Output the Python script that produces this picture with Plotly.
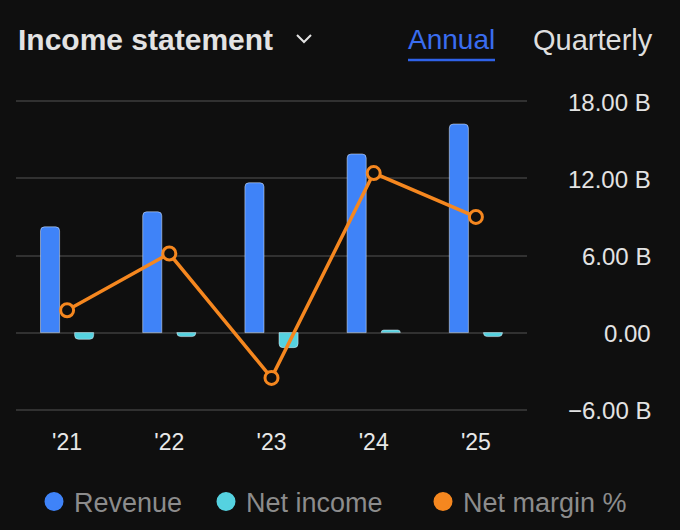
import plotly.graph_objects as go

# data (values in billions, margin in %)
years = ["'21", "'22", "'23", "'24", "'25"]
revenue = [8.23, 9.40, 11.66, 13.90, 16.23]
net_income = [-0.52, -0.31, -1.17, 0.20, -0.31]
net_margin = [-6.4, -3.3, -10.1, 1.1, -1.3]

y_ticks = [-6, 0, 6, 12, 18]
y_tick_text = ["\u22126.00 B", "0.00", "6.00 B", "12.00 B", "18.00 B"]

series_names = ["Revenue", "Net income", "Net margin %"]
series_colors = ["#3f83f8", "#55d2e0", "#f5871f"]

W, H = 680, 530
ML, MR, MT, MB = 16, 153, 100, 119
PW, PH = W - ML - MR, H - MT - MB
FONT = "Liberation Sans, Arial, sans-serif"
BG = "#0f0f0f"


def px_x(x):
    return (x - ML) / PW


def px_y(y):
    return (H - MB - y) / PH


fig = go.Figure()

fig.add_trace(go.Bar(
    x=years, y=revenue, name=series_names[0],
    marker=dict(color=series_colors[0], cornerradius=4),
    showlegend=False,
))
fig.add_trace(go.Bar(
    x=years, y=net_income, name=series_names[1],
    marker=dict(color=series_colors[1], cornerradius=4),
    showlegend=False,
))
fig.add_trace(go.Scatter(
    x=years, y=net_margin, name=series_names[2], yaxis="y2",
    mode="lines+markers",
    line=dict(color=series_colors[2], width=3.5),
    marker=dict(size=13, color=BG, line=dict(color=series_colors[2], width=3)),
    showlegend=False,
))

# legend entries drawn as round dots, one small legend each
legend_ids = ["legend", "legend2", "legend3"]
legend_left = [34, 206, 423]
for name, color, lid in zip(series_names, series_colors, legend_ids):
    fig.add_trace(go.Scatter(
        x=[None], y=[None], name=name, mode="markers", legend=lid,
        marker=dict(size=18, color=color, symbol="circle",
                    line=dict(color=color, width=3)),
    ))

legend_style = dict(
    orientation="h", xanchor="left", yanchor="middle",
    font=dict(size=27, color="#8c8c8c", family=FONT),
    bgcolor="rgba(0,0,0,0)", itemsizing="trace",
)
legends = {}
for lid, lx in zip(legend_ids, legend_left):
    legends[lid] = dict(legend_style, x=px_x(lx), y=px_y(502))

annotations = [
    dict(text="<b>Income statement</b>", x=px_x(16), y=px_y(40),
         xanchor="left", yanchor="middle",
         font=dict(size=30, color="#e3e3e3", family=FONT)),
    dict(text="Annual", x=px_x(406), y=px_y(40),
         xanchor="left", yanchor="middle",
         font=dict(size=28, color="#3a6df0", family=FONT)),
    dict(text="Quarterly", x=px_x(531), y=px_y(40),
         xanchor="left", yanchor="middle",
         font=dict(size=29, color="#dedede", family=FONT)),
]
for v, t in zip(y_ticks, y_tick_text):
    annotations.append(dict(
        text=t, x=px_x(653), y=v, xref="paper", yref="y",
        xanchor="right", yanchor="middle", yshift=-1,
        font=dict(size=24, color="#e3e3e3", family=FONT),
    ))
for a in annotations:
    a.setdefault("xref", "paper")
    a.setdefault("yref", "paper")
    a["showarrow"] = False

shapes = [
    dict(type="line", xref="paper", yref="paper",
         x0=px_x(408), x1=px_x(495), y0=px_y(60), y1=px_y(60),
         line=dict(color="#2f62e8", width=2.5)),
    dict(type="path", xref="paper", yref="paper",
         path="M {},{} L {},{} L {},{}".format(
             px_x(297), px_y(35), px_x(304), px_y(42), px_x(311), px_y(35)),
         line=dict(color="#e3e3e3", width=2)),
]

fig.update_layout(
    width=W, height=H,
    margin=dict(l=ML, r=MR, t=MT, b=MB, autoexpand=False),
    paper_bgcolor=BG, plot_bgcolor=BG,
    font=dict(family=FONT),
    barmode="group", bargap=0.333, bargroupgap=0.44,
    xaxis=dict(
        type="category", showgrid=False, ticks="", showline=False,
        tickfont=dict(size=23, color="#e8e8e8"), ticklabelstandoff=15,
    ),
    yaxis=dict(
        range=[-6.1, 18.1], tickvals=y_ticks, showticklabels=False,
        gridcolor="#313131", gridwidth=1.5, zeroline=False, side="right",
    ),
    yaxis2=dict(overlaying="y", range=[-11.91, 5.095], visible=False),
    annotations=annotations,
    shapes=shapes,
    **legends,
)

# page body has a default 8px margin; drop it so the figure sits at 0,0
fig.write_html(
    "out.html",
    config={"displayModeBar": False},
    post_script="document.body.style.margin='0';",
)
